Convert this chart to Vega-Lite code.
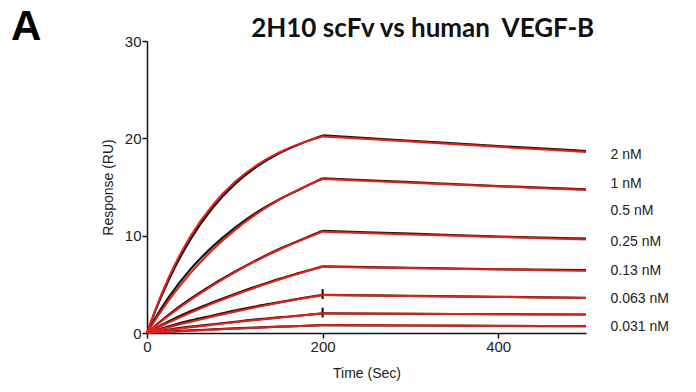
{
  "$schema": "https://vega.github.io/schema/vega-lite/v6.json",
  "width": 439,
  "height": 292,
  "autosize": {"type": "none"},
  "padding": {"left": 147, "top": 41, "right": 110, "bottom": 59},
  "background": "white",
  "view": {"stroke": null},
  "datasets": {
    "curves": [
      {"k": "fit", "p": "a", "t": 0, "c2": 0, "c1": 0, "c05": 0, "c025": 0, "c013": 0, "c0063": 0, "c0031": 0},
      {"k": "fit", "p": "a", "t": 10, "c2": 2.51, "c1": 1.42, "c05": 0.74, "c025": 0.45, "c013": 0.24, "c0063": 0.12, "c0031": 0.05},
      {"k": "fit", "p": "a", "t": 25, "c2": 5.75, "c1": 3.37, "c05": 1.8, "c025": 1.09, "c013": 0.6, "c0063": 0.3, "c0031": 0.12},
      {"k": "fit", "p": "a", "t": 50, "c2": 10.02, "c1": 6.2, "c05": 3.43, "c025": 2.1, "c013": 1.16, "c0063": 0.58, "c0031": 0.23},
      {"k": "fit", "p": "a", "t": 75, "c2": 13.17, "c1": 8.58, "c05": 4.9, "c025": 3.04, "c013": 1.69, "c0063": 0.84, "c0031": 0.34},
      {"k": "fit", "p": "a", "t": 100, "c2": 15.51, "c1": 10.57, "c05": 6.23, "c025": 3.91, "c013": 2.19, "c0063": 1.1, "c0031": 0.44},
      {"k": "fit", "p": "a", "t": 125, "c2": 17.25, "c1": 12.25, "c05": 7.44, "c025": 4.72, "c013": 2.66, "c0063": 1.34, "c0031": 0.54},
      {"k": "fit", "p": "a", "t": 150, "c2": 18.53, "c1": 13.65, "c05": 8.53, "c025": 5.47, "c013": 3.1, "c0063": 1.57, "c0031": 0.63},
      {"k": "fit", "p": "a", "t": 175, "c2": 19.48, "c1": 14.83, "c05": 9.51, "c025": 6.17, "c013": 3.51, "c0063": 1.79, "c0031": 0.71},
      {"k": "fit", "p": "a", "t": 200, "c2": 20.19, "c1": 15.82, "c05": 10.41, "c025": 6.81, "c013": 3.9, "c0063": 2.0, "c0031": 0.8},
      {"k": "fit", "p": "d", "t": 200, "c2": 20.19, "c1": 15.82, "c05": 10.41, "c025": 6.81, "c013": 3.9, "c0063": 2.0, "c0031": 0.8},
      {"k": "fit", "p": "d", "t": 300, "c2": 19.67, "c1": 15.43, "c05": 10.13, "c025": 6.67, "c013": 3.8, "c0063": 1.97, "c0031": 0.77},
      {"k": "fit", "p": "d", "t": 400, "c2": 19.13, "c1": 15.07, "c05": 9.87, "c025": 6.53, "c013": 3.7, "c0063": 1.93, "c0031": 0.73},
      {"k": "fit", "p": "d", "t": 500, "c2": 18.6, "c1": 14.7, "c05": 9.6, "c025": 6.4, "c013": 3.6, "c0063": 1.9, "c0031": 0.7},
      {"k": "obs", "p": "a", "t": 0, "c2": 0, "c1": 0, "c05": 0, "c025": 0, "c013": 0, "c0063": 0, "c0031": 0},
      {"k": "obs", "p": "a", "t": 10, "c2": 2.4, "c1": 1.6, "c05": 0.8, "c025": 0.5, "c013": 0.3, "c0063": 0.15, "c0031": 0.08},
      {"k": "obs", "p": "a", "t": 25, "c2": 5.5, "c1": 3.7, "c05": 1.9, "c025": 1.2, "c013": 0.7, "c0063": 0.35, "c0031": 0.15},
      {"k": "obs", "p": "a", "t": 50, "c2": 9.7, "c1": 6.6, "c05": 3.55, "c025": 2.25, "c013": 1.3, "c0063": 0.65, "c0031": 0.27},
      {"k": "obs", "p": "a", "t": 75, "c2": 12.9, "c1": 8.9, "c05": 5.0, "c025": 3.15, "c013": 1.8, "c0063": 0.9, "c0031": 0.37},
      {"k": "obs", "p": "a", "t": 100, "c2": 15.3, "c1": 10.8, "c05": 6.3, "c025": 4.0, "c013": 2.3, "c0063": 1.15, "c0031": 0.47},
      {"k": "obs", "p": "a", "t": 125, "c2": 17.1, "c1": 12.4, "c05": 7.5, "c025": 4.8, "c013": 2.75, "c0063": 1.4, "c0031": 0.56},
      {"k": "obs", "p": "a", "t": 150, "c2": 18.45, "c1": 13.7, "c05": 8.6, "c025": 5.55, "c013": 3.15, "c0063": 1.6, "c0031": 0.65},
      {"k": "obs", "p": "a", "t": 175, "c2": 19.45, "c1": 14.8, "c05": 9.55, "c025": 6.2, "c013": 3.55, "c0063": 1.8, "c0031": 0.72},
      {"k": "obs", "p": "a", "t": 200, "c2": 20.3, "c1": 15.9, "c05": 10.5, "c025": 6.85, "c013": 3.92, "c0063": 2.02, "c0031": 0.8},
      {"k": "obs", "p": "d", "t": 200, "c2": 20.3, "c1": 15.9, "c05": 10.5, "c025": 6.85, "c013": 3.92, "c0063": 2.02, "c0031": 0.8},
      {"k": "obs", "p": "d", "t": 300, "c2": 19.75, "c1": 15.5, "c05": 10.2, "c025": 6.7, "c013": 3.82, "c0063": 1.97, "c0031": 0.77},
      {"k": "obs", "p": "d", "t": 400, "c2": 19.2, "c1": 15.1, "c05": 9.9, "c025": 6.55, "c013": 3.72, "c0063": 1.94, "c0031": 0.73},
      {"k": "obs", "p": "d", "t": 500, "c2": 18.7, "c1": 14.75, "c05": 9.7, "c025": 6.45, "c013": 3.62, "c0063": 1.9, "c0031": 0.7},
      {"k": "obs", "p": "s", "t": 200, "c2": null, "c1": null, "c05": null, "c025": null, "c013": 3.5, "c0063": 1.6, "c0031": null},
      {"k": "obs", "p": "s", "t": 200, "c2": null, "c1": null, "c05": null, "c025": null, "c013": 4.5, "c0063": 2.6, "c0031": null}
    ],
    "labels": [
      {"lab": "2 nM", "t": 528, "r": 18.3},
      {"lab": "1 nM", "t": 528, "r": 15.3},
      {"lab": "0.5 nM", "t": 528, "r": 12.5},
      {"lab": "0.25 nM", "t": 528, "r": 9.35},
      {"lab": "0.13 nM", "t": 528, "r": 6.4},
      {"lab": "0.063 nM", "t": 528, "r": 3.5},
      {"lab": "0.031 nM", "t": 528, "r": 0.6}
    ],
    "panel": [
      {"lab": "A", "t": -155, "r": 30.1}
    ],
    "heading": [
      {"lab": "2H10 scFv vs human\u00a0 VEGF-B", "t": 314, "r": 30.45}
    ]
  },
  "encoding": {
    "x": {
      "field": "t", "type": "quantitative",
      "scale": {"domain": [0, 500], "nice": false, "zero": false},
      "axis": {
        "values": [0, 200, 400], "title": "Time (Sec)", "grid": false,
        "domainColor": "#111", "domainWidth": 1.5, "tickColor": "#111", "tickWidth": 1.5, "tickSize": 5,
        "labelFont": "Liberation Sans", "labelFontSize": 15, "labelColor": "#222", "labelPadding": 1, "labelFlush": false,
        "titleFont": "Liberation Sans", "titleFontSize": 14, "titleFontWeight": "normal", "titleColor": "#222", "titlePadding": 12
      }
    },
    "y": {
      "field": "r", "type": "quantitative",
      "scale": {"domain": [0, 30], "nice": false},
      "axis": {
        "values": [0, 10, 20, 30], "title": "Response (RU)", "grid": false,
        "domainColor": "#111", "domainWidth": 1.5, "tickColor": "#111", "tickWidth": 1.5, "tickSize": 5,
        "labelFont": "Liberation Sans", "labelFontSize": 15, "labelColor": "#222", "labelPadding": 1,
        "titleFont": "Liberation Sans", "titleFontSize": 14, "titleFontWeight": "normal", "titleColor": "#222", "titlePadding": 9
      }
    }
  },
  "layer": [
    {
      "data": {"name": "curves"},
      "transform": [
        {"filter": "datum.k == 'obs'"},
        {"fold": ["c2", "c1", "c05", "c025", "c013", "c0063", "c0031"], "as": ["c", "r"]},
        {"filter": "datum.r != null"},
        {"calculate": "datum.c + '_' + datum.p", "as": "series"}
      ],
      "mark": {"type": "line", "color": "#151515", "strokeWidth": 2.2, "interpolate": "monotone", "clip": false},
      "encoding": {"detail": {"field": "series"}}
    },
    {
      "data": {"name": "curves"},
      "transform": [
        {"filter": "datum.k == 'fit'"},
        {"fold": ["c2", "c1", "c05", "c025", "c013", "c0063", "c0031"], "as": ["c", "r"]},
        {"calculate": "datum.c + '_' + datum.p", "as": "series"}
      ],
      "mark": {"type": "line", "color": "#e3201b", "strokeWidth": 2, "interpolate": "monotone", "clip": false},
      "encoding": {"detail": {"field": "series"}}
    },
    {
      "data": {"name": "labels"},
      "mark": {"type": "text", "align": "left", "baseline": "middle", "font": "Liberation Sans", "fontSize": 14, "color": "#222"},
      "encoding": {"text": {"field": "lab"}}
    },
    {
      "data": {"name": "panel"},
      "mark": {"type": "text", "align": "left", "baseline": "alphabetic", "font": "Liberation Sans", "fontSize": 42, "fontWeight": "bold", "color": "#000"},
      "encoding": {"text": {"field": "lab"}}
    },
    {
      "data": {"name": "heading"},
      "mark": {"type": "text", "align": "center", "baseline": "alphabetic", "font": "Lato", "fontSize": 26, "fontWeight": "bold", "color": "#111"},
      "encoding": {"text": {"field": "lab"}}
    }
  ]
}
